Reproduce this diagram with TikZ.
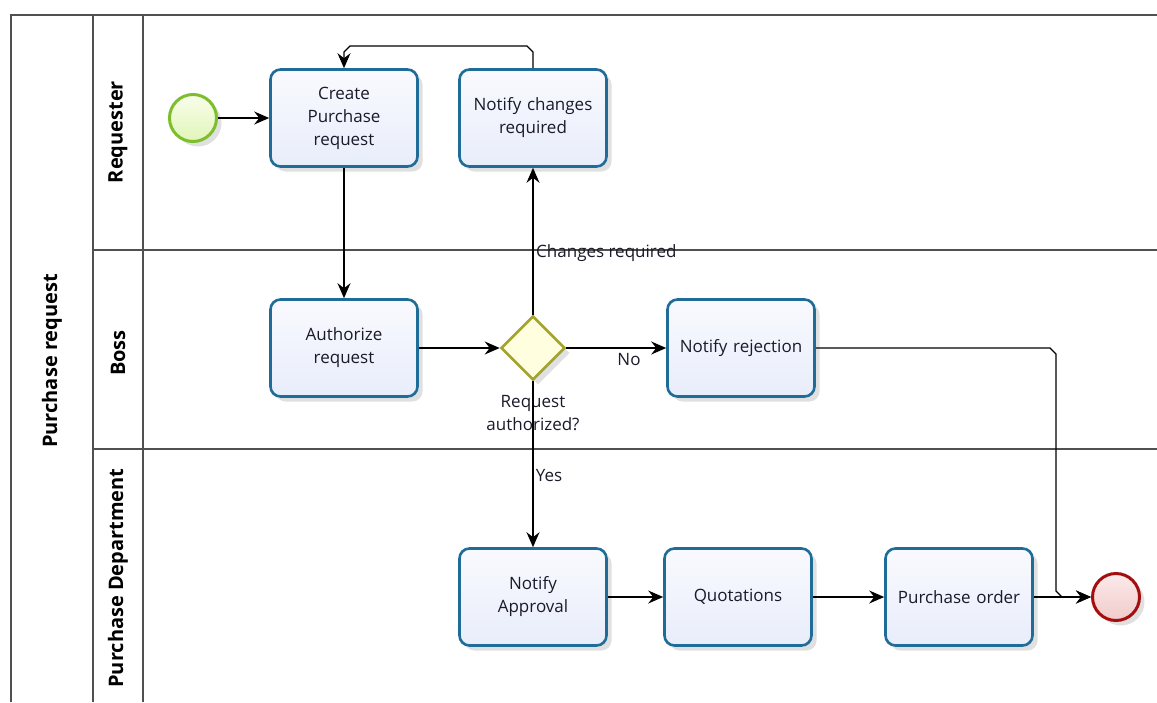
\documentclass[tikz,border=0pt]{standalone}
\usepackage{fontspec}
\setmainfont{Open Sans}
\usetikzlibrary{arrows.meta,shapes.geometric,shadows}
\definecolor{taskblue}{HTML}{1F6C98}
\definecolor{taskfillA}{HTML}{F9FAFE}
\definecolor{taskfillB}{HTML}{E8EDFB}
\definecolor{gwline}{HTML}{A3A32E}
\definecolor{gwfill}{HTML}{FFFFE0}
\definecolor{stline}{HTML}{7DBE2C}
\definecolor{stfillA}{HTML}{F8FDEB}
\definecolor{stfillB}{HTML}{E2F5B8}
\definecolor{enline}{HTML}{A50E0E}
\definecolor{enfillA}{HTML}{FBEAEA}
\definecolor{enfillB}{HTML}{F2CACA}
\definecolor{poolline}{HTML}{505050}
\definecolor{txt}{HTML}{1A1A2A}
\tikzset{
  shade/.style={drop shadow={shadow xshift=5pt,shadow yshift=-5pt,opacity=0.12,fill=black}},
  task/.style={rectangle, rounded corners=10pt, minimum width=147pt, minimum height=97pt,
    draw=taskblue, line width=2.6pt, top color=taskfillA, bottom color=taskfillB, align=center, text width=135pt,
    font=\fontsize{17}{23}\selectfont, text=txt, shade},
  gateway/.style={diamond, aspect=1, minimum width=64pt, minimum height=64pt, inner sep=0pt,
    draw=gwline, line width=2.6pt, fill=gwfill, shade},
  startev/.style={circle, minimum size=47pt, inner sep=0pt, draw=stline, line width=3pt, top color=stfillA, bottom color=stfillB, shade},
  endev/.style={circle, minimum size=47pt, inner sep=0pt, draw=enline, line width=3pt, top color=enfillA, bottom color=enfillB, shade},
  flow/.style={draw=black, line width=1.3pt, -{Stealth[length=15pt,width=13pt,inset=5pt]}},
  lbl/.style={font=\fontsize{17}{23}\selectfont, text=txt, align=center, inner sep=0pt},
  lanelbl/.style={rotate=90, font=\fontsize{20}{24}\selectfont\bfseries, text=black, inner sep=0pt},
  pool/.style={draw=poolline, line width=1.5pt}
}
\begin{document}
\begin{tikzpicture}[x=1pt,y=-1pt]
\useasboundingbox (0,0) rectangle (1157,702);
% pool and lanes
\draw[pool] (11,702) -- (11,15) -- (1157,15);
\draw[pool] (93,15) -- (93,702);
\draw[pool] (143,15) -- (143,702);
\draw[pool] (93,250) -- (1157,250);
\draw[pool] (93,449) -- (1157,449);
\node[lanelbl] (poolname) at (52,361) {Purchase request};
\node[lanelbl] (lreq) at (118,132) {Requester};
\node[lanelbl] (lboss) at (118,353) {Boss};
\node[lanelbl] (lpd) at (118,578) {Purchase Department};
% nodes
\node[startev] (start) at (193,118) {};
\node[task] (create) at (344,118) {Create\\Purchase\\request};
\node[task] (nch) at (533,118) {Notify changes\\required};
\node[task] (auth) at (344,348) {Authorize\\request};
\node[gateway] (gw) at (533,348) {};
\node[task] (rej) at (741,348) {Notify rejection};
\node[task] (appr) at (533,597) {Notify\\Approval};
\node[task] (quot) at (738,597) {Quotations};
\node[task] (po) at (959,597) {Purchase order};
\node[endev] (end) at (1116,597) {};
% labels
\node[lbl] (gwlabel) at (533,413) {Request\\authorized?};
\node[lbl, anchor=west] (lchg) at (536,253) {Changes required};
\node[lbl] (lno) at (629,360) {No};
\node[lbl] (lyes) at (549,476) {Yes};
% connectors
\draw[flow] (start.east) -- (create.west);
\draw[flow] (create.south) -- (auth.north);
\draw[flow] (auth.east) -- (gw.west);
\draw[flow] (gw.north) -- (nch.south);
\coordinate (fbR) at (533,46);
\coordinate (fbL) at (344,46);
\draw[flow] (nch.north) -- ([yshift=-6pt]fbR) -- ([xshift=-6pt]fbR) -- ([xshift=6pt]fbL) -- ([yshift=-6pt]fbL) -- (create.north);
\draw[flow] (gw.east) -- (rej.west);
\draw[flow] (gw.south) -- (appr.north);
\draw[flow] (appr.east) -- (quot.west);
\draw[flow] (quot.east) -- (po.west);
\draw[flow] (po.east) -- (end.west);
\coordinate (rjT) at (1056,348);
\coordinate (rjB) at (1056,597);
\draw[flow] (rej.east |- rjT) -- ([xshift=-6pt]rjT) -- ([yshift=-6pt]rjT) -- ([yshift=6pt]rjB) -- ([xshift=6pt]rjB) -- (end.west);
\end{tikzpicture}
\end{document}
